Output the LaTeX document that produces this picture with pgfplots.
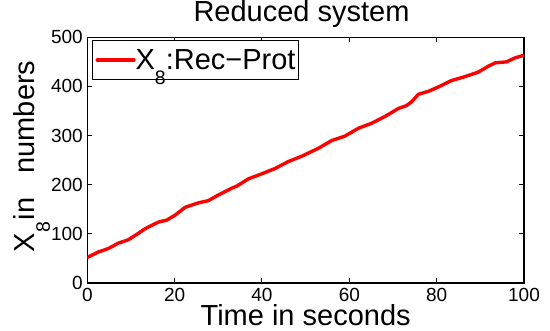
\documentclass[border=0pt]{standalone}
\usepackage{fontspec}
\setmainfont{Liberation Sans}
\usepackage{pgfplots}
\pgfplotsset{compat=1.18}
\begin{document}
\begin{tikzpicture}
\useasboundingbox (0pt,0pt) rectangle (550pt,331pt);
\begin{axis}[
  at={(87.3pt,48pt)}, anchor=south west,
  width=436.7pt, height=245.7pt, scale only axis,
  xmin=0, xmax=100, ymin=0, ymax=500,
  xtick={0,20,...,100}, ytick={0,100,...,500},
  tick align=inside, tick pos=both,
  major tick length=5pt,
  axis line style={line width=1.1pt},
  every tick/.style={black, line width=1pt},
  /pgf/number format/assume math mode=true,
  tick label style={font=\fontsize{19}{19}\selectfont, inner sep=0pt},
  xticklabel style={yshift=-5pt},
  yticklabel style={xshift=-4.3pt},
  title={Reduced system},
  title style={font=\fontsize{29}{29}\selectfont, at={(axis description cs:0.4905,1.041)}, anchor=base, inner sep=0pt},
  xlabel={Time in seconds},
  xlabel style={font=\fontsize{29}{29}\selectfont, at={(axis description cs:0.5,-0.171)}, anchor=base, inner sep=0pt},
  ylabel={X\raisebox{-15pt}{\fontsize{19.5}{19.5}\selectfont 8}\hspace{2pt}in\hspace{24pt}numbers},
  ylabel style={font=\fontsize{29}{29}\selectfont, at={(axis description cs:-0.1198,0.515)}, anchor=base, rotate=0, inner sep=0pt},
  legend style={at={(0.01,0.989)}, anchor=north west, draw=black, line width=1.1pt,
    inner xsep=3.3pt, inner ysep=8.8pt, font=\fontsize{29}{29}\selectfont, nodes={inner sep=0pt}},
  legend image code/.code={\path (0pt,0pt) -- (36.7pt,0pt); \draw[red, line width=3.5pt, line cap=butt] (2.7pt,0pt) -- (33.3pt,0pt);},
]
\addplot[red, line width=3.4pt, line join=round, line cap=round] coordinates {
(0,52) (2.5,63) (4.8,70) (7.1,81) (9.4,88) (11.7,101) (12.8,108) (14,114) (16.3,124)
(18.2,128) (20.1,138) (22.4,154) (25.4,163) (27.7,167.5) (30,179) (33.1,193)
(34.2,197) (36.9,212) (39.9,222) (43,233) (46,247) (49.1,258) (52.9,274) (56,290)
(59,299) (62.1,315) (65.1,325) (68.4,340) (71.2,355) (73.1,361) (74.3,369)
(75.8,384) (78.1,390) (80.4,399) (83.4,412) (86.5,420) (89.5,429) (91.8,441)
(93.4,448) (96,450) (97.9,458) (99.6,462.5) (100,462)
};
\addlegendentry{X\raisebox{-14.7pt}{\fontsize{19.5}{19.5}\selectfont 8}:Rec−Prot}
\end{axis}
\end{tikzpicture}
\end{document}
